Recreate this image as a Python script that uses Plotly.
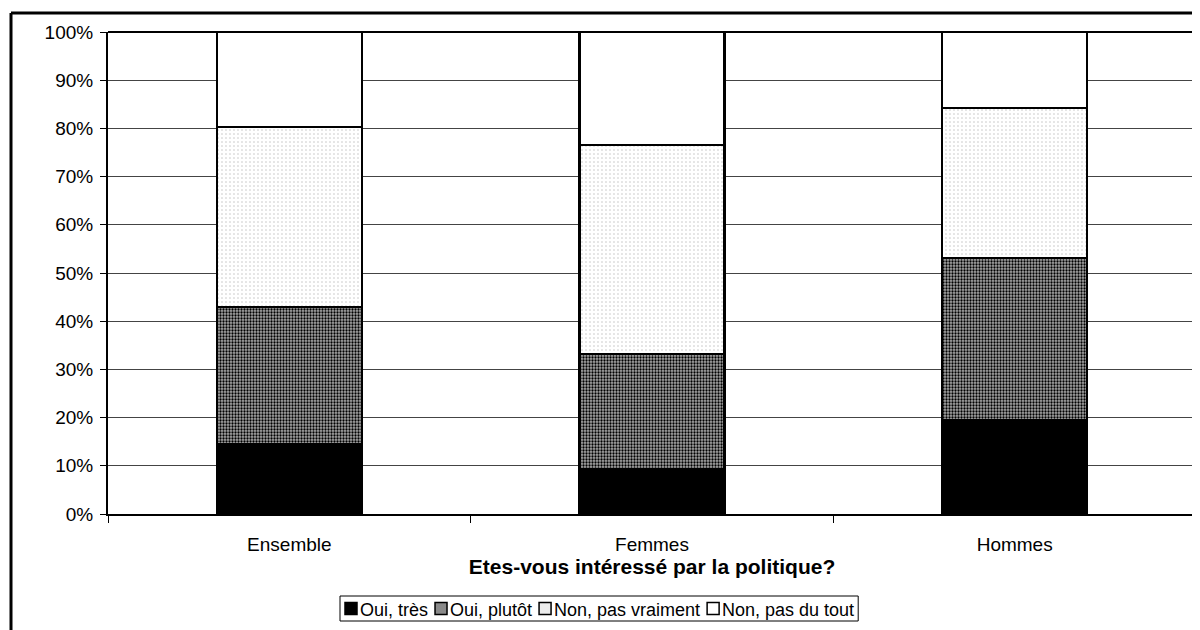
import plotly.graph_objects as go

categories = ["Ensemble", "Femmes", "Hommes"]
series_names = ["Oui, très", "Oui, plutôt", "Non, pas vraiment", "Non, pas du tout"]
oui_tres = [0.145, 0.093, 0.195]
oui_plutot = [0.284, 0.239, 0.336]
non_pas_vraiment = [0.374, 0.434, 0.311]
non_pas_du_tout = [0.197, 0.234, 0.158]
y_ticks = [0, 0.1, 0.2, 0.3, 0.4, 0.5, 0.6, 0.7, 0.8, 0.9, 1.0]
x_title = "Etes-vous intéressé par la politique?"

FONT = "Liberation Sans, Arial, sans-serif"

styles = [
    dict(color="black"),
    dict(color="white", pattern=dict(shape=".", fgcolor="black", bgcolor="#a8a8a8", size=3, solidity=0.45, fillmode="replace")),
    dict(color="white", pattern=dict(shape=".", fgcolor="#c4c4c4", bgcolor="white", size=4, solidity=0.12, fillmode="replace")),
    dict(color="white"),
]
legend_fill = ["black", "#8a8a8a", "#ececec", "white"]

fig = go.Figure()
for name, vals, st in zip(series_names, [oui_tres, oui_plutot, non_pas_vraiment, non_pas_du_tout], styles):
    fig.add_trace(go.Bar(
        x=categories, y=vals, name=name, width=0.4, showlegend=False,
        marker=dict(line=dict(color="black", width=2.5), **st),
    ))

# page body has an 8px margin: figure is shifted by 8px
W, H = 1192, 622
L, R, T, B = 100, 4, 24, 116
pw, ph = W - L - R, H - T - B


def px(x):
    return (x - L) / pw


def py(y):
    return 1 - (y - T) / ph


fig.update_layout(
    width=W, height=H,
    barmode="stack",
    margin=dict(l=L, r=R, t=T, b=B),
    paper_bgcolor="white", plot_bgcolor="white",
    font=dict(family=FONT, size=19, color="black"),
    showlegend=False,
    xaxis=dict(
        type="category", range=[-0.5, 2.5],
        showline=True, linecolor="black", linewidth=2,
        ticks="outside", tickson="boundaries", ticklen=7, tickcolor="black", tickwidth=1,
        ticklabelstandoff=12,
        tickfont=dict(family=FONT, size=19, color="black"),
        title=dict(text="<b>" + x_title + "</b>", font=dict(family=FONT, size=21, color="black"), standoff=0),
        showgrid=False,
    ),
    yaxis=dict(
        range=[0, 1], tickvals=y_ticks, tickformat=".0%",
        showline=True, linecolor="black", linewidth=2,
        ticks="outside", ticklen=6, tickcolor="black", tickwidth=1,
        ticklabelstandoff=3,
        tickfont=dict(family=FONT, size=19, color="black"),
        showgrid=True, gridcolor="#444444", gridwidth=1,
        zeroline=False,
    ),
)

# top border of plot area
fig.add_shape(type="line", xref="paper", yref="paper", x0=0, x1=1, y0=1, y1=1,
              line=dict(color="black", width=2))
# outer chart frame (left and top visible)
fig.add_shape(type="line", xref="paper", yref="paper", x0=px(3), x1=px(3), y0=py(H + 10), y1=py(5),
              line=dict(color="black", width=3))
fig.add_shape(type="line", xref="paper", yref="paper", x0=px(3), x1=px(W + 10), y0=py(5), y1=py(5),
              line=dict(color="black", width=3))

# legend drawn manually (compact, Excel-like)
ARIAL = {" ": 278, ",": 278, "O": 778, "u": 556, "i": 222, "t": 278, "r": 333, "è": 556, "s": 500,
         "p": 556, "l": 222, "ô": 556, "N": 722, "o": 556, "n": 556, "a": 556, "v": 500, "m": 833,
         "e": 556, "d": 556}
LF = 18


def tw(s):
    return sum(ARIAL.get(c, 556) for c in s) * LF / 1000.0


box_left, box_top, box_bot = 332, 588, 613
ycen = (box_top + box_bot) / 2
x = box_left + 5
sq = 12
gap = 7
for name, fill in zip(series_names, legend_fill):
    fig.add_shape(type="rect", xref="paper", yref="paper",
                  x0=px(x), x1=px(x + sq), y0=py(ycen + sq / 2), y1=py(ycen - sq / 2),
                  line=dict(color="black", width=1.5), fillcolor=fill)
    fig.add_annotation(xref="paper", yref="paper", x=px(x + sq + 2), y=py(ycen + 1),
                       xanchor="left", yanchor="middle", showarrow=False, text=name,
                       font=dict(family=FONT, size=LF, color="black"), borderpad=0)
    x += sq + 3 + tw(name) + gap
box_right = x - gap + 4
fig.add_shape(type="rect", xref="paper", yref="paper",
              x0=px(box_left), x1=px(box_right), y0=py(box_bot), y1=py(box_top),
              line=dict(color="black", width=1), fillcolor="rgba(0,0,0,0)", layer="below")

fig.write_html("out.html")
